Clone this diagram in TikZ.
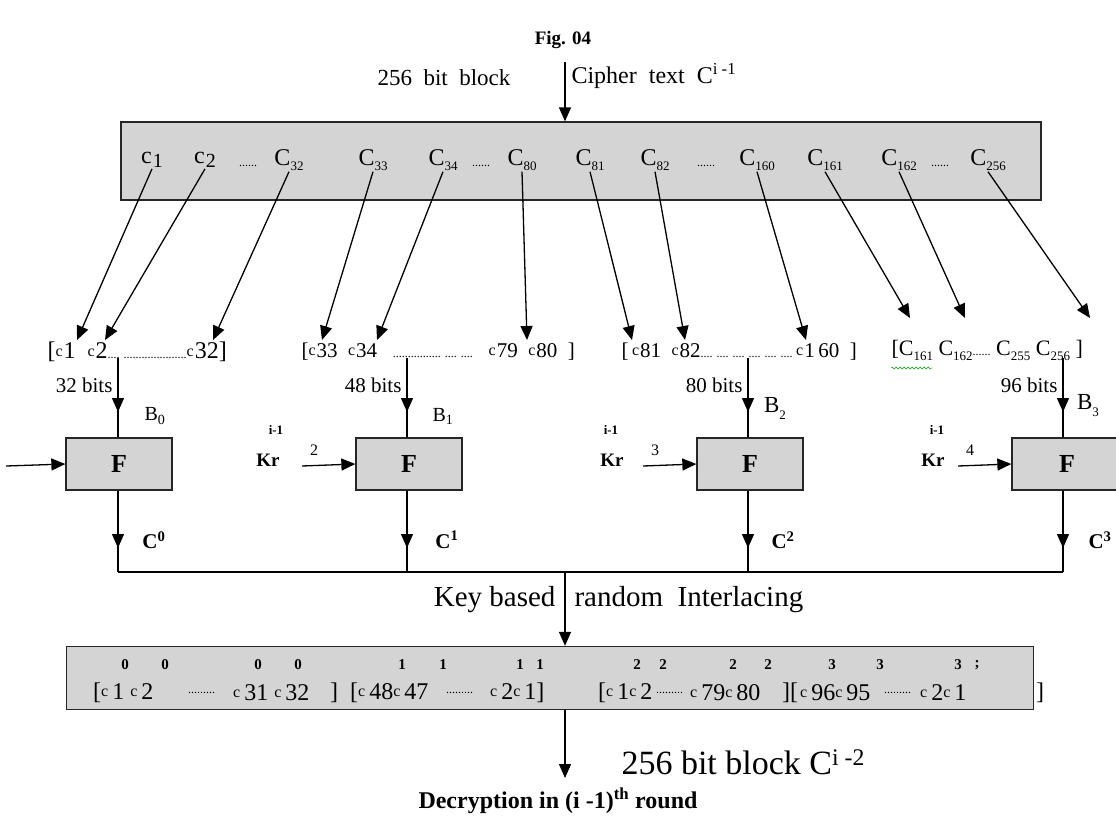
\documentclass[tikz,border=0pt]{standalone}
\usepackage{fontspec}
\setmainfont{Liberation Serif}
\usetikzlibrary{arrows.meta,positioning,decorations.pathmorphing}

\newcommand{\fsz}[1]{\fontsize{#1}{#1}\selectfont}
\newcommand{\cbit}[1]{\raisebox{2pt}{\fsz{16}c}\kern1pt{#1}}
\newcommand{\cbs}[1]{\raisebox{3pt}{\fsz{16}c}\hspace{4pt}#1}
\newcommand{\sbs}[1]{\raisebox{-5pt}{\fsz{13}#1}}

\tikzset{
  arr/.style={-{Triangle[length=14pt,width=12pt]}, line width=1.3pt},
  wire/.style={line width=1.2pt},
  graybox/.style={draw=black!85, line width=1.3pt, fill=black!17},
  fbox/.style={graybox, minimum width=106pt, minimum height=52pt, inner sep=0pt, font=\fsz{26}\bfseries},
  lab/.style={font=\fsz{24}, inner sep=1pt},
  dots/.style={font=\fsz{12}, inner sep=0pt},
  tok/.style={font=\fsz{24}, anchor=west, inner sep=0pt},
}

\begin{document}
\begin{tikzpicture}[x=1pt, y=-1pt]
\useasboundingbox (0,0) rectangle (1116,823);

% heading and input
\node[font=\fsz{19}\bfseries] (fig) at (563,40) {Fig. 04};
\node[font=\fsz{23}] (blk) at (444,78) {256\ \ bit\ \ block};
\node[font=\fsz{24}, anchor=west] (ctx) at (568,76) {Cipher\ \ text\ \ C\textsuperscript{i -1}};
\coordinate (cin) at (565,62);

% 256 bit input block
\node[graybox, minimum width=920pt, minimum height=78pt, inner sep=0pt] (top) at (581,161) {};
\draw[arr] (cin) -- (cin |- top.north);
\foreach \nm/\x/\lab in {t1/152/c\kern1pt\raisebox{-4pt}{\fsz{20}1}, t2/205/c\kern1pt\raisebox{-4pt}{\fsz{20}2},
    t3/289/C\sbs{32}, t4/373/C\sbs{33}, t5/443/C\sbs{34},
    t6/522/C\sbs{80}, t7/590/C\sbs{81}, t8/655/C\sbs{82},
    t9/757/C\sbs{160}, t10/825/C\sbs{161}, t11/899/C\sbs{162},
    t12/988/C\sbs{256}}
  \node[lab] (\nm) at (\x,160) {\lab};
\foreach \nm/\x in {tdA/248, tdB/481, tdC/706, tdD/940}
  \node[dots] (\nm) at (\x,166) {......};

% targets in the split row
\foreach \nm/\x/\y in {d1/77/340, d2/105/340, d3/213/340, d4/322/340, d5/377/340, d6/527/340,
    d7/632/340, d8/685/340, d9/806/340, d10/910/318, d11/965/318, d12/1090/318}
  \coordinate (\nm) at (\x,\y);
\foreach \i in {1,...,12}
  \draw[arr] (t\i.south) -- (d\i);

% split blocks
\node[font=\fsz{24}, anchor=west] (g1) at (44,352) {[\cbit{1}\ \ \cbit{2}{\fsz{12}.... .....................}\cbit{32}]};
\node[font=\fsz{21}, anchor=west] (g2) at (298,352) {[\cbit{33}\ \ \cbit{34}\ \ \ {\fsz{12}................ .... ....}\ \ \ \cbit{79}\ \ \cbit{80}\ \ ]};
\node[font=\fsz{21}, anchor=west] (g3) at (618,352) {[\,\cbit{81}\ \ \cbit{82}{\fsz{12}.... .... .... .... .... ....}\,\cbit{1\,60}\ \ ]};
\node[font=\fsz{22}, anchor=west] (g4) at (888,350) {[C\sbs{161} C\sbs{162}{\fsz{12}......}\ C\sbs{255} C\sbs{256}\ ]};
\draw[green!60!black, decorate, decoration={snake, amplitude=1pt, segment length=4pt}] (891,368) -- (933,368);

% round functions
\node[fbox] (f1) at (119,464) {F};
\node[fbox] (f2) at (409,464) {F};
\node[fbox] (f3) at (750,464) {F};
\node[fbox, minimum width=110pt] (f4) at (1067,464) {F};

% block inputs
\foreach \i/\x/\bits in {1/118/32, 2/407/48, 3/748/80, 4/1063/96} {
  \coordinate (s\i) at (\x,358);
  \coordinate (k\i) at (\x,412);
  \draw[wire] (s\i) -- (s\i |- f\i.north);
  \draw[arr] (s\i) -- (k\i);
  \node[font=\fsz{21}, anchor=east] (n\i) at (\x-2,385) {\bits{} bits};
}
\node[font=\fsz{20}] (b0) at (155,416) {B\textsubscript{0}};
\node[font=\fsz{20}] (b1) at (443,416) {B\textsubscript{1}};
\node[font=\fsz{23}] (b2) at (775,408) {B\raisebox{-7pt}{\fsz{13}2}};
\node[font=\fsz{23}] (b3) at (1088,406) {B\raisebox{-7pt}{\fsz{13}3}};

% round keys
\coordinate (e1) at (6,466);
\draw[arr] (e1) -- (f1.west);
\foreach \i/\kx/\ex/\sub/\supx in {2/268/302/2/276, 3/612/643/3/611, 4/933/958/4/937} {
  \node[font=\fsz{19}\bfseries] (kr\i) at (\kx,460) {Kr};
  \node[font=\fsz{13}\bfseries] (ki\i) at (\supx,430) {i-1};
  \node[font=\fsz{16}] (ks\i) at (\ex+12,450) {\sub};
  \coordinate (e\i) at (\ex,466);
  \draw[arr] (e\i) -- (f\i.west);
}

% outputs and interlacing
\foreach \i/\lx/\sup in {1/154/0, 2/447/1, 3/783/2, 4/1100/3} {
  \coordinate (o\i) at (s\i |- 0,548);
  \coordinate (j\i) at (s\i |- 0,572);
  \draw[wire] (s\i |- f\i.south) -- (j\i);
  \draw[arr] (s\i |- f\i.south) -- (o\i);
  \node[font=\fsz{21}\bfseries] (c\i) at (\lx,540) {C\textsuperscript{\sup}};
}
\draw[wire] (j1) -- (j4);
\coordinate (jm) at (565,572);
\node[font=\fsz{29}, anchor=east] (kb) at (559,600) {Key based};
\node[font=\fsz{29}, anchor=west] (ri) at (571,600) {random\ \ Interlacing};

% 256 bit output block
\node[graybox, minimum width=967pt, minimum height=63pt, inner sep=0pt] (bot) at (550,678) {};
\draw[arr] (jm) -- (jm |- bot.north);
\foreach \x/\d [count=\i] in {125/0, 165/0, 258/0, 298/0, 402/1, 443/1, 520/1, 540/1,
    637/2, 663/2, 733/2, 768/2, 832/3, 880/3, 958/3, 977/;}
  \node[font=\fsz{15}\bfseries] (p\i) at (\x,665) {\d};
\foreach \x/\txt [count=\i] in {93/{[\cbs{1}\ \cbs{2}}, 188/{\fsz{12}.........}, 233/{\cbs{31}\ \cbs{32}},
    330/{]}, 350/{[\cbs{48}\cbs{47}}, 446/{\fsz{12}.........}, 490/{\cbs{2}\cbs{1}]},
    598/{[\cbs{1}\cbs{2}}, 656/{\fsz{12}.........}, 690/{\cbs{79}\cbs{80}}, 782/{][},
    800/{\cbs{96}\cbs{95}}, 884/{\fsz{12}.........}, 920/{\cbs{2}\cbs{1}}, 1036/{]}}
  \node[tok] (w\i) at (\x,693) {\txt};

% result
\coordinate (res) at (565,778);
\draw[arr] (jm |- bot.south) -- (res);
\node[font=\fsz{34}, anchor=west] (ob) at (618,762) {256 bit block C\textsuperscript{i -2}};
\node[font=\fsz{24}\bfseries] (dec) at (558,801) {Decryption in (i -1)\textsuperscript{th} round};
\end{tikzpicture}
\end{document}
